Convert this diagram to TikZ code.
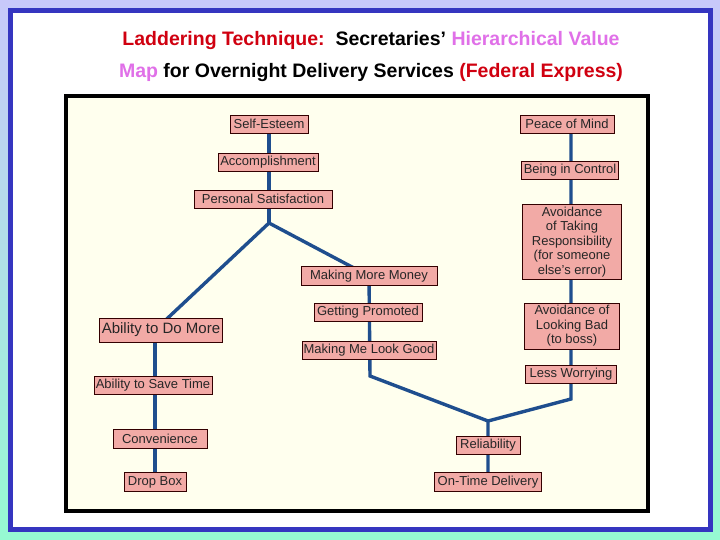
\documentclass[tikz,border=0pt]{standalone}
\usepackage{fontspec}
\setmainfont{Liberation Sans}
\begin{document}
\begin{tikzpicture}[x=1pt,y=-1pt,
  box/.style={draw=black!80!red, line width=0.8pt, fill=boxpink, inner sep=0pt, align=center, font=\fontsize{13}{14.5}\selectfont, text=black!85},
  link/.style={draw=linkblue, line width=3.4pt}]
\definecolor{boxpink}{HTML}{F2AAA6}
\definecolor{linkblue}{HTML}{1F4E8E}
\definecolor{panel}{HTML}{FFFFEE}
\definecolor{frameblue}{HTML}{3535C0}
\definecolor{tred}{HTML}{D00010}
\definecolor{tpink}{HTML}{E070E8}
\shade[top color={rgb,255:red,200;green,200;blue,250}, bottom color={rgb,255:red,150;green,250;blue,210}] (0,0) rectangle (720,540);
\useasboundingbox (0,0) rectangle (720,540);
\draw[frameblue, line width=5pt, fill=white] (10.5,10.5) rectangle (710,529);
\draw[black, line width=3.5pt, fill=panel] (66,96) rectangle (648,511);
\node[font=\bfseries\fontsize{19.5}{32}\selectfont, align=center] (title) at (371,57)
  {\textcolor{tred}{Laddering Technique:}\ \ Secretaries' \textcolor{tpink}{Hierarchical Value}\\
   \textcolor{tpink}{Map} for Overnight Delivery Services \textcolor{tred}{(Federal Express)}};
% links first (under boxes)
\coordinate (j1) at (269,223);
\coordinate (b1) at (370,376);
\coordinate (j2) at (488,421);
\coordinate (b2) at (571,399);
\path[link] (269,124) -- (j1);
\path[link] (j1) -- (155,330);
\path[link] (j1) -- (369,276);
\path[link] (369,276) -- (b1) -- (j2) -- (488,482);
\path[link] (155,330) -- (155,482);
\path[link] (571,124) -- (b2) -- (j2);
% nodes
\node[box, minimum width=78, minimum height=18] (se) at (269,124) {Self-Esteem};
\node[box, minimum width=100, minimum height=18] (ac) at (268,162) {Accomplishment};
\node[box, minimum width=138, minimum height=18] (ps) at (263,199) {Personal Satisfaction};
\node[box, minimum width=136, minimum height=19] (mm) at (369,276) {Making More Money};
\node[box, minimum width=108, minimum height=18] (gp) at (368,312) {Getting Promoted};
\node[box, minimum width=134, minimum height=18] (ml) at (369,350) {Making Me Look Good};
\node[box, minimum width=123, minimum height=24, font=\fontsize{15}{17}\selectfont] (dm) at (161,330) {Ability to Do More};
\node[box, minimum width=118, minimum height=18] (st) at (153,385) {Ability to Save Time};
\node[box, minimum width=94, minimum height=19] (cv) at (160,439) {Convenience};
\node[box, minimum width=62, minimum height=19] (db) at (155,482) {Drop Box};
\node[box, minimum width=64, minimum height=18] (rl) at (488,445) {Reliability};
\node[box, minimum width=107, minimum height=19] (ot) at (488,482) {On-Time Delivery};
\node[box, minimum width=94, minimum height=18] (pm) at (567,124) {Peace of Mind};
\node[box, minimum width=97, minimum height=18] (bc) at (570,170) {Being in Control};
\node[box, minimum width=99, minimum height=75] (at) at (572,242) {Avoidance\\of Taking\\Responsibility\\(for someone\\else's error)};
\node[box, minimum width=95, minimum height=46] (lb) at (572,326) {Avoidance of\\Looking Bad\\(to boss)};
\node[box, minimum width=91, minimum height=18] (lw) at (571,374) {Less Worrying};
\end{tikzpicture}
\end{document}
